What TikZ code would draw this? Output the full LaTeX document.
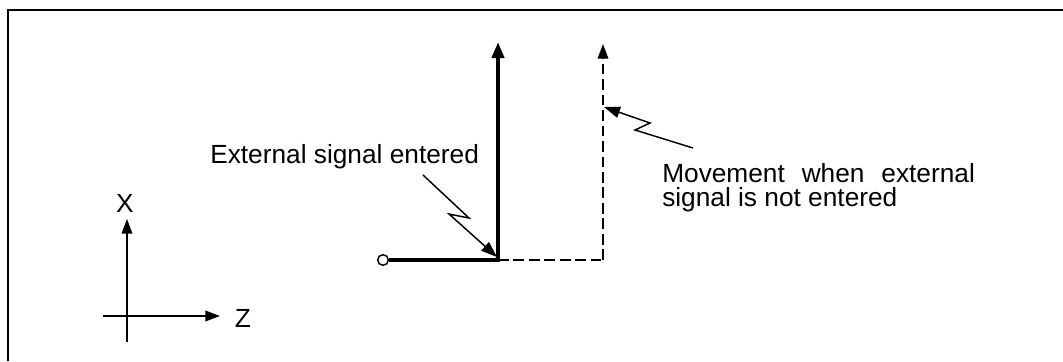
\documentclass[tikz,border=0pt]{standalone}
\usepackage{fontspec}
\setmainfont{Liberation Sans}
\usetikzlibrary{arrows.meta}
\begin{document}
\begin{tikzpicture}[x=0.75pt,y=-0.75pt,
  txt/.style={inner sep=0pt,font=\fontsize{19.7}{17.6}\selectfont},
  lbl/.style={txt,anchor=base west},
  thickpath/.style={line width=2.9pt},
  dashpath/.style={line width=1.1pt,dash pattern=on 8pt off 3.6pt},
  tipbig/.style={-{Triangle[length=12pt,width=9pt]}},
  tipsmall/.style={-{Triangle[length=11pt,width=8pt]}},
  axis/.style={line width=1.1pt},
  bolt/.style={line width=1.1pt,-{Triangle[length=12pt,width=8.5pt]}}]
\useasboundingbox (0,0) rectangle (1063,361);
% frame
\draw[line width=1.8pt] (8,361) -- (8,10) -- (1063,10);
% coordinates
\coordinate (start) at (383,260);
\coordinate (corner) at (498,260);
\coordinate (topA) at (498,42);
\coordinate (cornerB) at (603,260);
\coordinate (topB) at (603,44);
% thick path
\node[circle,draw,line width=1.1pt,minimum size=8pt,inner sep=0pt,fill=white] (o) at (start) {};
\draw[thickpath] (o.east) -- (corner);
\draw[thickpath,tipbig] ([yshift=-1.4pt]corner) -- (topA);
% dashed path
\draw[dashpath] (corner) -- (cornerB);
\draw[dashpath,tipsmall] (cornerB) -- (topB);
% labels
\node[lbl] (t1) at (210,163) {External signal entered};
\node[lbl,align=left] (t2) at (662,206) {\makebox[234.5pt][s]{Movement when external}\\signal is not entered};
% lightning arrows
\coordinate (b1s) at (423,175);
\coordinate (b1a) at (469,218);
\coordinate (b1b) at (449,214);
\coordinate (b1t) at (497,257);
\draw[bolt] (b1s) -- (b1a) -- (b1b) -- (b1t);
\coordinate (b2s) at (693,148);
\coordinate (b2a) at (635,130);
\coordinate (b2b) at (650,123);
\coordinate (b2t) at (604,107);
\draw[bolt] (b2s) -- (b2a) -- (b2b) -- (b2t);
% axes
\coordinate (xb) at (127,342);
\coordinate (xt) at (127,219);
\coordinate (zl) at (103,316);
\coordinate (zr) at (220,316);
\draw[axis,tipsmall] (xb) -- (xt);
\draw[axis,tipsmall] (zl) -- (zr);
\node[txt] (X) at (125,203) {X};
\node[txt] (Z) at (243,318) {Z};
\end{tikzpicture}
\end{document}
